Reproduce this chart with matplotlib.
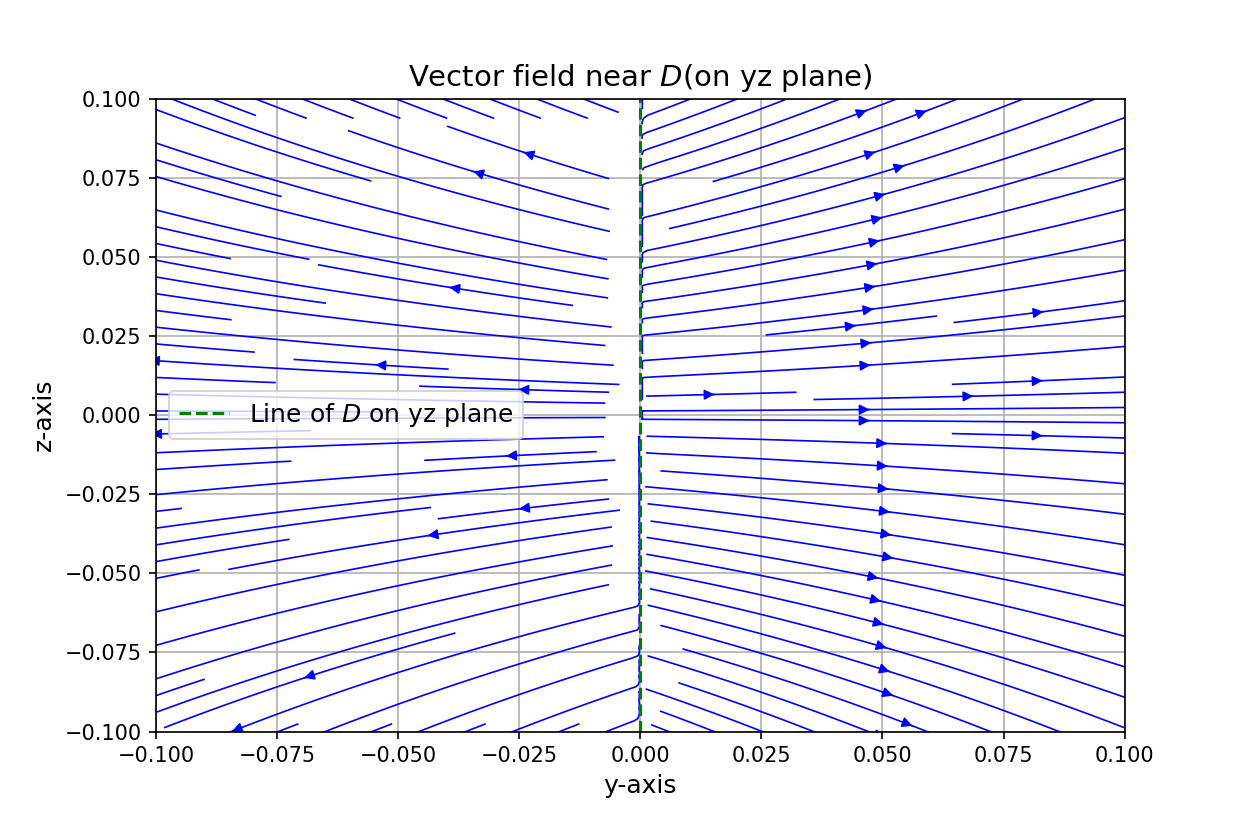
import numpy as np
import matplotlib.pyplot as plt

# view window on the yz plane around D
y_lim = [-0.1, 0.1]
z_lim = [-0.1, 0.1]
# the field grid reaches past the window (further on the left)
y_grid = [-0.2, 0.1]
z_grid = [-0.2, 0.2]
n_y = 300
n_z = 400
rate = 6.0   # growth of z along |y|

y = np.linspace(y_grid[0], y_grid[1], n_y)
z = np.linspace(z_grid[0], z_grid[1], n_z)
Y, Z = np.meshgrid(y, z)
dY = Y
dZ = rate * Z * np.abs(Y)

fig = plt.figure(figsize=(8.33, 5.48), dpi=150)
plt.streamplot(Y, Z, dY, dZ, color='blue', linewidth=0.8, density=(2.1, 2.8))
plt.axvline(0, color='green', linestyle='--', label='Line of $D$ on yz plane')
plt.xlim(y_lim)
plt.ylim(z_lim)
plt.title('Vector field near $D$(on yz plane)', fontsize=14)
plt.xlabel('y-axis', fontsize=12)
plt.ylabel('z-axis', fontsize=12)
plt.legend(loc='center left', fontsize=12)
plt.grid(True)
plt.savefig('out.png')
